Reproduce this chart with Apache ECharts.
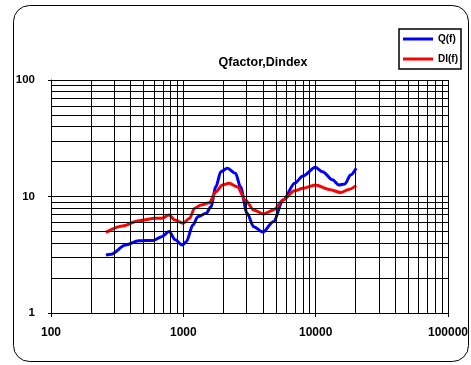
<!DOCTYPE html>
<html><head><meta charset="utf-8">
<script src="https://cdn.jsdelivr.net/npm/echarts@6/dist/echarts.min.js"></script>
<style>html,body{margin:0;padding:0;background:#fff}#c{width:471px;height:365px}</style>
</head><body><div id="c"></div>
<script>
const title = 'Qfactor,Dindex';
const seriesNames = ['Q(f)', 'DI(f)'];
const qFreq = [260,285,366,460,595,686,780,870,980,1053,1181,1287,1490,1616,1761,1919,2153,2481,2703,3032,3400,3990,4790,5690,6940,8020,9950,11290,13400,15010,16640,18350,20230];
const qVal  = [3.15,3.2,3.83,4.17,4.2,4.52,5.0,4.25,3.83,4.09,5.69,6.71,7.17,8.17,12.1,16.3,17.5,15.8,12.1,7.17,5.5,4.95,6.08,9.33,13.0,15.0,17.8,16.3,13.9,12.55,12.8,15.3,17.5];
const dFreq = [260,346,460,612,686,780,862,995,1116,1216,1362,1573,1761,1975,2216,2555,2945,3401,4037,4793,5689,6940,8017,9950,12640,15460,17820,20230];
const dVal  = [4.92,5.58,6.2,6.5,6.5,6.94,6.28,5.89,6.5,7.92,8.46,8.85,11.0,12.55,13.0,12.1,9.33,7.66,7.08,7.66,9.33,11.2,11.75,12.55,11.5,10.8,11.5,12.4];
const xDecades = [100, 1000, 10000, 100000];
const yDecades = [1, 10, 100];
const minorSteps = [2,3,4,5,6,7,8,9];

const gridLines = [];
xDecades.forEach((d,i) => {
  gridLines.push({xAxis: d});
  if (i < xDecades.length - 1) minorSteps.forEach(m => gridLines.push({xAxis: d*m}));
});
yDecades.forEach((d,i) => {
  gridLines.push({yAxis: d});
  if (i < yDecades.length - 1) minorSteps.forEach(m => gridLines.push({yAxis: d*m}));
});

const font = 'Liberation Sans, Arial, sans-serif';
const chart = echarts.init(document.getElementById('c'));
chart.setOption({
  animation: false,
  backgroundColor: '#fff',
  title: {text: title, left: 258, top: 51, textAlign: 'center',
    textStyle: {fontFamily: font, fontWeight: 'bold', fontSize: 12.5, color: '#000'}},
  legend: {
    orient: 'vertical', left: 399, top: 29, data: seriesNames,
    icon: 'rect', itemWidth: 30, itemHeight: 3, itemGap: 8,
    padding: [4, 3, 4, 4],
    borderColor: '#000', borderWidth: 1.5,
    textStyle: {fontFamily: font, fontWeight: 'bold', fontSize: 10, color: '#000', lineHeight: 12}
  },
  graphic: [{type: 'rect', shape: {x: 13.5, y: 5.5, width: 455, height: 356, r: 16},
    style: {fill: 'none', stroke: '#000', lineWidth: 1}, silent: true, z: -1}],
  grid: {left: 51, right: 17, top: 80, bottom: 52},
  xAxis: {
    type: 'log', logBase: 10, min: 100, max: 100000,
    axisLine: {show: true, lineStyle: {color: '#000', width: 1}},
    axisTick: {show: true, length: 4, lineStyle: {color: '#000'}},
    splitLine: {show: false},
    axisLabel: {margin: 14, color: '#000', fontFamily: font, fontWeight: 'bold', fontSize: 12,
      formatter: v => String(Math.round(v))}
  },
  yAxis: {
    type: 'log', logBase: 10, min: 1, max: 100,
    axisLine: {show: true, lineStyle: {color: '#000', width: 1}},
    axisTick: {show: true, length: 3, lineStyle: {color: '#000'}},
    splitLine: {show: false},
    axisLabel: {margin: 16, color: '#000', fontFamily: font, fontWeight: 'bold', fontSize: 11.5,
      padding: [5, 0, 0, 0],
      formatter: v => String(Math.round(v))}
  },
  series: [
    {type: 'line', name: '_grid', data: [], silent: true,
      markLine: {silent: true, symbol: 'none', label: {show: false},
        lineStyle: {color: '#000', width: 1, type: 'solid'},
        emphasis: {disabled: true}, data: gridLines}},
    {type: 'line', name: seriesNames[0], data: qFreq.map((f,i) => [f, qVal[i]]),
      showSymbol: false, symbol: 'none', smooth: 0.3, smoothMonotone: 'x',
      lineStyle: {color: '#0000FF', width: 3}, itemStyle: {color: '#0000FF'}},
    {type: 'line', name: seriesNames[1], data: dFreq.map((f,i) => [f, dVal[i]]),
      showSymbol: false, symbol: 'none', smooth: 0.3, smoothMonotone: 'x',
      lineStyle: {color: '#FF0000', width: 3}, itemStyle: {color: '#FF0000'}}
  ]
});
</script></body></html>
